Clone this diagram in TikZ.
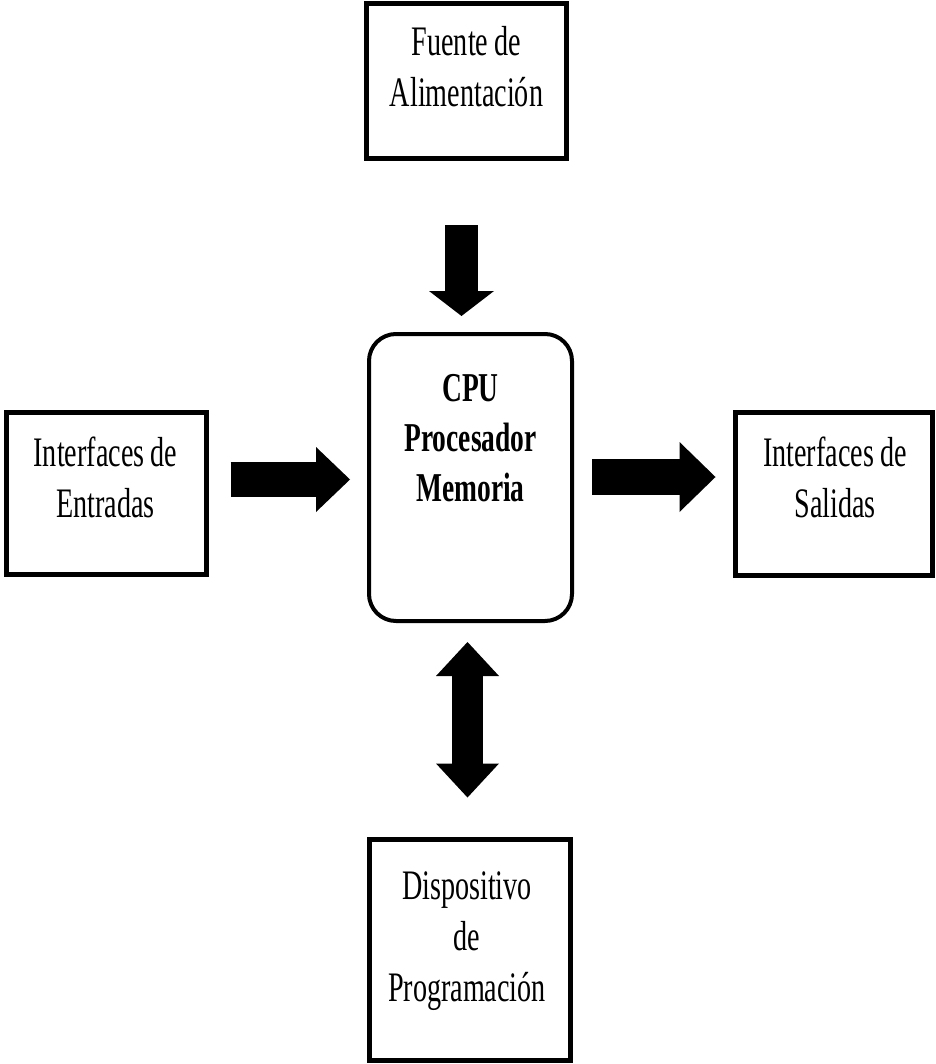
\documentclass[tikz,border=0pt]{standalone}
\usepackage{fontspec}
\setmainfont[FakeStretch=0.67, WordSpace=0.9]{Liberation Serif}
\usetikzlibrary{arrows.meta}

% Arrow heads of the block arrows
\tikzset{
  headDown/.tip={Triangle[length=25pt,width=65pt,line width=0pt]},
  headIn/.tip={Triangle[length=34pt,width=65pt,line width=0pt]},
  headOut/.tip={Triangle[length=36pt,width=70pt,line width=0pt]},
  headProg/.tip={Triangle[length=34pt,width=63pt,line width=0pt]},
}

\begin{document}
\begin{tikzpicture}[x=1pt,y=-1pt,
  box/.style={draw, line width=5pt, inner sep=0pt},
  cpubox/.style={draw, line width=4pt, rounded corners=27pt, inner sep=0pt},
  lbl/.style={anchor=base, text width=200pt, align=flush center, inner sep=0pt,
              font=\fontsize{42}{51}\selectfont},
  cpulbl/.style={lbl, font=\fontsize{41}{50}\selectfont\bfseries},
  fat/.style={draw, line width=#1},
]
\useasboundingbox (0,0) rectangle (935,1064);

% Blocks
\node[box, minimum width=200pt, minimum height=155pt] (power) at (466.5,81) {};
\node[box, minimum width=200pt, minimum height=162pt] (inputs) at (106.5,493.5) {};
\node[box, minimum width=197pt, minimum height=163pt] (outputs) at (834,494) {};
\node[cpubox, minimum width=203pt, minimum height=287pt] (cpu) at (470.5,477.5) {};
\node[box, minimum width=201pt, minimum height=221pt] (prog) at (470,950) {};

% Texts
\node[lbl] (powerText) at ([yshift=-54.5pt]power.north) {Fuente de\\Alimentación};
\node[lbl] (inText) at ([yshift=-56.5pt,xshift=-1pt]inputs.north) {Interfaces de\\Entradas};
\node[lbl] (outText) at ([yshift=-56.5pt,xshift=1pt]outputs.north) {Interfaces de\\Salidas};
\node[cpulbl] (cpuText) at ([yshift=-69pt]cpu.north) {CPU\\Procesador\\Memoria};
\node[lbl] (progText) at ([yshift=-62.5pt,xshift=-3pt]prog.north) {Dispositivo\\de\\Programación};

% Block arrows
\draw[fat=33pt, -headDown, shorten <=64.5pt, shorten >=16pt]
  ([xshift=-5pt]power.south) -- ([xshift=-9pt]cpu.north);
\draw[fat=35pt, -headIn, shorten <=21.5pt, shorten >=17pt]
  ([yshift=14pt]inputs.east) -- ([yshift=-2pt]cpu.west);
\draw[fat=36pt, -headOut, shorten <=18pt, shorten >=17.5pt]
  ([yshift=0.5pt]cpu.east) -- ([yshift=17pt]outputs.west);
\draw[fat=31pt, headProg-headProg, shorten <=19pt, shorten >=39.5pt]
  ([xshift=-3pt]cpu.south) -- ([xshift=-2.5pt]prog.north);
\end{tikzpicture}
\end{document}
